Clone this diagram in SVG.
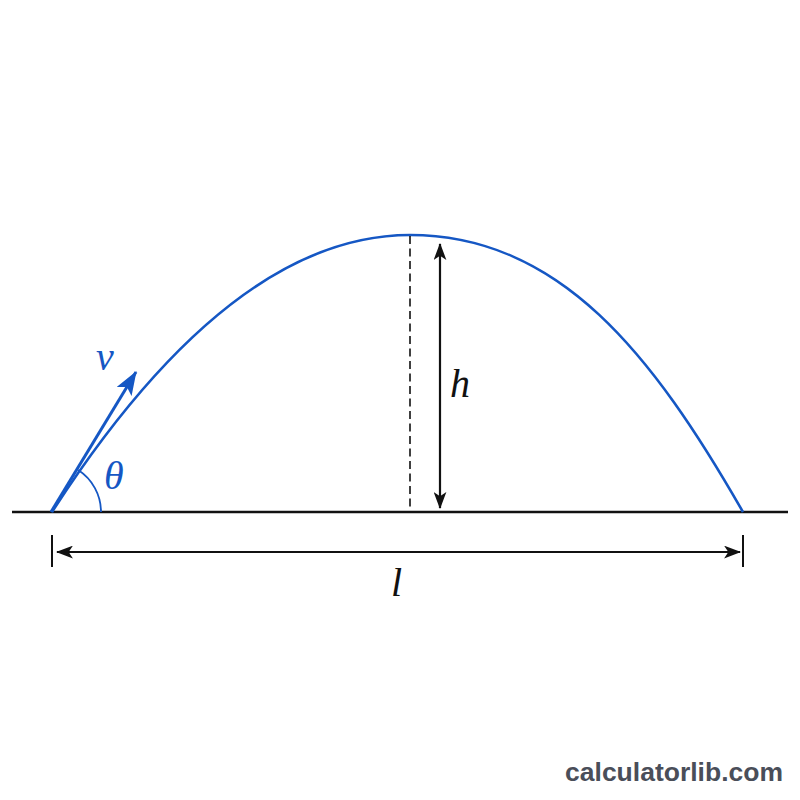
<svg xmlns="http://www.w3.org/2000/svg" width="800" height="800" viewBox="0 0 800 800">
<style>
.blk{stroke:#111;fill:none}
.blue{stroke:#1557c4;fill:none}
.math{font-family:"Liberation Serif","DejaVu Serif",serif;font-style:italic;font-size:40px}
</style>
<defs>
<marker id="ah" viewBox="0 0 16 12" refX="15" refY="6" markerWidth="17" markerHeight="13" markerUnits="userSpaceOnUse" orient="auto-start-reverse">
<path d="M0,0 L16,6 L0,12 L4,6 Z" fill="#111"/>
</marker>
<marker id="bh" viewBox="0 0 22 16" refX="21" refY="8" markerWidth="24" markerHeight="18" markerUnits="userSpaceOnUse" orient="auto">
<path d="M0,0 L22,8 L0,16 L5,8 Z" fill="#1557c4"/>
</marker>
</defs>
<rect width="800" height="800" fill="#ffffff"/>
<g id="ground"><line class="blk" x1="12" y1="512" x2="788" y2="512" stroke-width="2.5"/></g>
<g id="trajectory"><path class="blue" stroke-width="2.6" d="M52,512 Q231,235 410,235 C560,235 653,355 743,512"/></g>
<g id="connectors">
<line id="height-dash" class="blk" x1="410" y1="236" x2="410" y2="512" stroke-width="1.6" stroke-dasharray="8,4.5"/>
<line id="height-arrow" class="blk" x1="440" y1="244" x2="440" y2="508" stroke-width="2.2" marker-start="url(#ah)" marker-end="url(#ah)"/>
<line id="range-arrow" class="blk" x1="57" y1="552" x2="740" y2="552" stroke-width="2.2" marker-start="url(#ah)" marker-end="url(#ah)"/>
<line class="blk" x1="52" y1="535" x2="52" y2="567" stroke-width="2"/>
<line class="blk" x1="743" y1="535" x2="743" y2="567" stroke-width="2"/>
<line id="velocity" class="blue" x1="51" y1="512" x2="136" y2="372" stroke-width="3" marker-end="url(#bh)"/>
<path id="angle-arc" class="blue" stroke-width="1.8" d="M101,512 A50,50 0 0 0 78.2,470.1"/>
</g>
<g id="labels">
<text class="math" x="96" y="370" fill="#1557c4">v</text>
<text class="math" x="104" y="489" fill="#1557c4">θ</text>
<text class="math" x="450" y="397" fill="#111">h</text>
<text class="math" x="391" y="596" fill="#111">l</text>
</g>
<text x="783" y="781" text-anchor="end" font-family="Liberation Sans,Arial,sans-serif" font-weight="bold" font-size="26.5" fill="#4a4e59">calculatorlib.com</text>
</svg>
